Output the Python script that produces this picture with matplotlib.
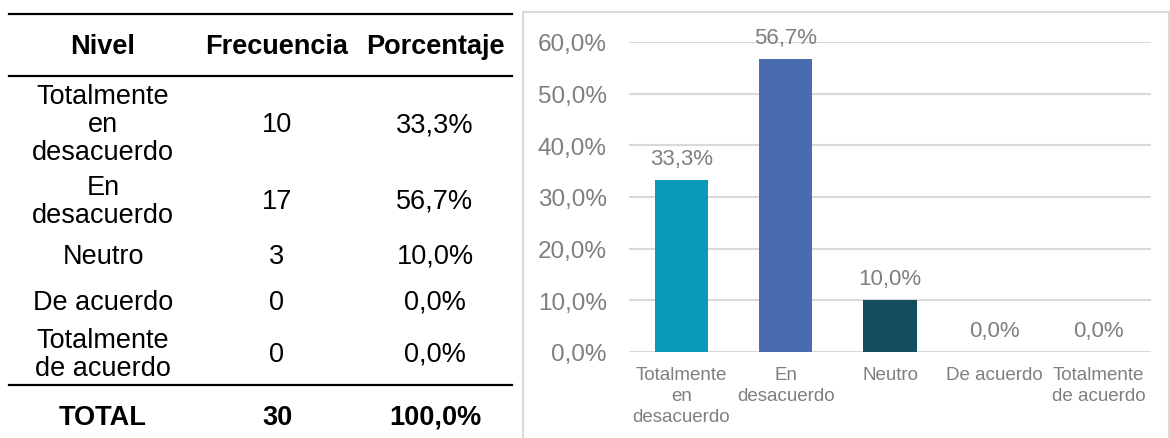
import matplotlib
matplotlib.use("Agg")
import matplotlib.pyplot as plt
from matplotlib.lines import Line2D
from matplotlib.patches import Rectangle

# survey results
niveles = ["Totalmente\nen\ndesacuerdo", "En\ndesacuerdo", "Neutro",
           "De acuerdo", "Totalmente\nde acuerdo"]
frecuencia = [10, 17, 3, 0, 0]
porcentaje = [33.3, 56.7, 10.0, 0.0, 0.0]
total_frecuencia = 30
total_porcentaje = 100.0
yticks = [0, 10, 20, 30, 40, 50, 60]

bar_colors = ["#0A99B6", "#4A6CAE", "#144D5E", "#0A99B6", "#4A6CAE"]
GRAY = "#7F7F7F"
GRID = "#D9D9D9"

W, H = 1170, 439
plt.rcParams["font.family"] = ["Liberation Sans", "DejaVu Sans"]


def fmt_pct(v):
    return f"{v:.1f}".replace(".", ",") + "%"


def px(x, y):
    # pixel coords (top-left origin) -> figure fraction
    return x / W, 1 - y / H


fig = plt.figure(figsize=(W / 100, H / 100), dpi=100)

# ---- table on the left ----
for y in (15, 77, 386):
    x0, yy = px(9, y)
    x1, _ = px(512, y)
    fig.add_artist(Line2D([x0, x1], [yy, yy], transform=fig.transFigure,
                          color="black", lw=1.6))

col_x = [103, 277, 435]
row_y = [125, 202, 257, 303, 355]
TFS = 19.5

for x, head in zip(col_x, ["Nivel", "Frecuencia", "Porcentaje"]):
    fig.text(*px(x, 47), head, ha="center", va="center", fontsize=TFS,
             fontweight="bold")

for y, nivel, f, p in zip(row_y, niveles, frecuencia, porcentaje):
    fig.text(*px(col_x[0], y), nivel, ha="center", va="center",
             fontsize=TFS, linespacing=1.12, multialignment="center")
    fig.text(*px(col_x[1], y), str(f), ha="center", va="center", fontsize=TFS)
    fig.text(*px(col_x[2], y), fmt_pct(p), ha="center", va="center",
             fontsize=TFS)

fig.text(*px(col_x[0], 418), "TOTAL", ha="center", va="center",
         fontsize=TFS, fontweight="bold")
fig.text(*px(col_x[1], 418), str(total_frecuencia), ha="center", va="center",
         fontsize=TFS, fontweight="bold")
fig.text(*px(col_x[2], 418), fmt_pct(total_porcentaje), ha="center",
         va="center", fontsize=TFS, fontweight="bold")

# ---- chart frame (runs off the bottom edge) ----
fx, fy = px(523, 460)
fig.add_artist(Rectangle((fx, fy), 1 - fx - 1 / W, px(0, 13)[1] - fy,
                         transform=fig.transFigure, fill=False,
                         edgecolor=GRID, lw=1.5, clip_on=False))

# ---- bar chart ----
left, bottom = px(629, 353)
right, top = px(1151, 43)
ax = fig.add_axes([left, bottom, right - left, top - bottom])

xs = range(len(niveles))
ax.bar(xs, porcentaje, width=0.51, color=bar_colors, zorder=3)
for x, p in zip(xs, porcentaje):
    ax.annotate(fmt_pct(p), (x, p), xytext=(0, 8), textcoords="offset points",
                ha="center", va="bottom", fontsize=16, color=GRAY,
                annotation_clip=False)

ax.set_xlim(-0.5, len(niveles) - 0.5)
ax.set_ylim(0, 60)
ax.set_yticks(yticks)
ax.set_yticklabels([fmt_pct(v) for v in yticks])
ax.set_xticks(list(xs))
ax.set_xticklabels(niveles, linespacing=1.3)
ax.tick_params(axis="y", length=0, pad=16, labelsize=17.5, labelcolor=GRAY)
ax.tick_params(axis="x", length=0, pad=10, labelsize=13.5, labelcolor=GRAY)
ax.grid(axis="y", color=GRID, lw=1.5, zorder=0)
ax.set_axisbelow(True)
for s in ax.spines.values():
    s.set_visible(False)
ax.patch.set_alpha(0)

fig.savefig("out.png", dpi=100)
